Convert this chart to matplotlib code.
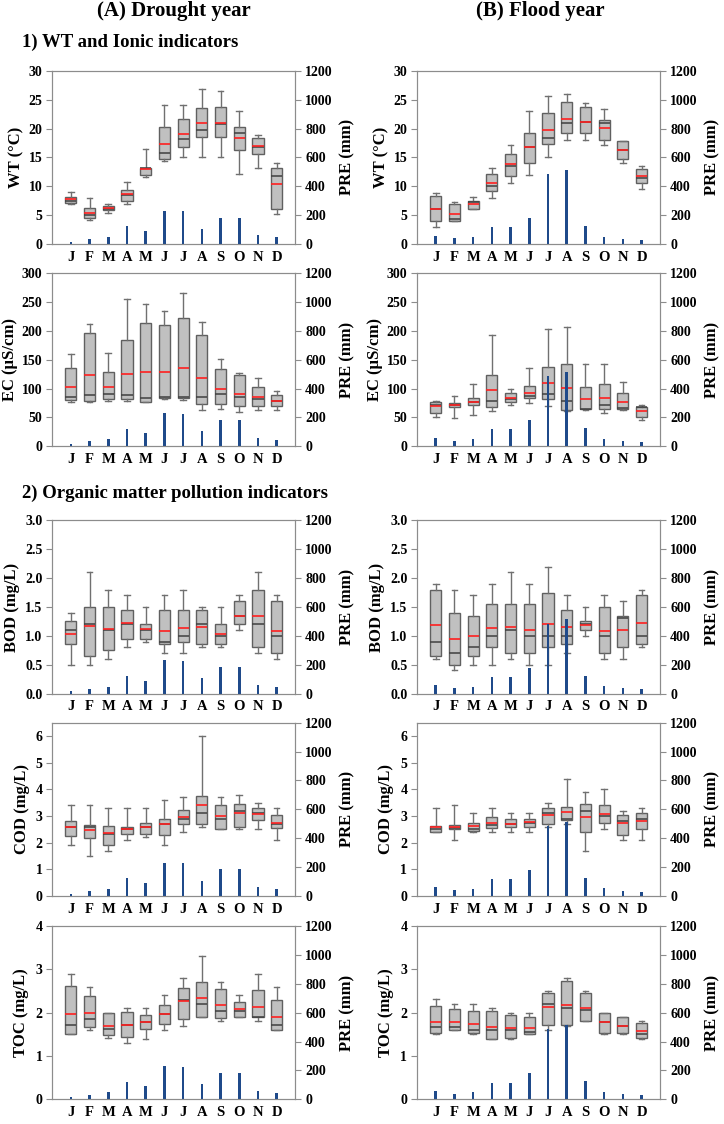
import matplotlib.pyplot as plt
import numpy as np

plt.rcParams['font.family'] = 'Liberation Serif'
plt.rcParams['font.weight'] = 'bold'
plt.rcParams['axes.labelweight'] = 'bold'

months = ['J', 'F', 'M', 'A', 'M', 'J', 'J', 'A', 'S', 'O', 'N', 'D']

# monthly precipitation (mm)
pre_drought = [15, 33, 48, 122, 90, 230, 225, 105, 183, 183, 60, 45]
pre_flood = [58, 39, 47, 116, 116, 180, 485, 515, 124, 51, 36, 29]

# each month: (whisker low, Q1, median, Q3, whisker high, mean)
wt_drought = [(6.9, 7.1, 7.5, 8.2, 9.0, 7.7), (4.1, 4.5, 5.0, 6.2, 8.0, 5.4),
              (5.3, 5.8, 6.1, 6.6, 7.0, 6.2), (7.0, 7.5, 8.4, 9.3, 10.8, 8.7),
              (11.6, 12.0, 13.1, 13.2, 16.4, 13.0), (14.3, 14.7, 15.7, 20.2, 24.1, 17.4),
              (15.1, 16.8, 18.2, 21.7, 24.1, 19.0), (15.1, 18.6, 19.8, 23.6, 26.8, 20.9),
              (15.1, 18.5, 20.8, 23.8, 26.5, 20.9), (12.1, 16.3, 19.2, 20.3, 23.1, 18.3),
              (13.1, 15.6, 16.8, 18.3, 18.8, 17.0), (5.1, 6.1, 11.7, 13.1, 14.1, 10.3)]
wt_flood = [(3.0, 4.0, 6.0, 8.3, 8.8, 6.0), (4.0, 4.0, 4.3, 6.9, 7.2, 5.1),
            (6.0, 6.0, 7.2, 7.4, 8.2, 6.9), (7.9, 9.2, 10.0, 12.1, 13.1, 10.5),
            (10.6, 11.8, 13.5, 15.6, 17.1, 13.8), (11.9, 14.1, 16.8, 19.2, 23.1, 16.8),
            (15.0, 17.3, 18.3, 22.7, 25.7, 19.7), (18.0, 19.2, 20.9, 24.6, 26.0, 21.6),
            (18.0, 19.2, 21.2, 23.7, 24.4, 21.2), (17.1, 18.0, 20.9, 21.5, 23.3, 20.1),
            (14.1, 14.7, 16.2, 17.8, 17.8, 16.3), (9.5, 10.6, 11.5, 12.9, 13.5, 11.7)]

ec_drought = [(76, 80, 86, 136, 160, 103), (77, 79, 89, 196, 211, 123),
              (79, 81, 90, 129, 161, 103), (78, 81, 89, 184, 256, 125),
              (76, 77, 84, 214, 247, 129), (81, 83, 86, 210, 235, 129),
              (80, 83, 85, 222, 266, 135), (63, 74, 85, 192, 216, 118),
              (65, 74, 90, 134, 151, 100), (59, 69, 86, 124, 127, 91),
              (63, 69, 82, 102, 118, 86), (63, 69, 79, 88, 96, 79)]
ec_flood = [(50, 58, 71, 76, 79, 70), (49, 68, 71, 75, 87, 72),
            (54, 71, 76, 83, 108, 76), (61, 68, 78, 124, 193, 97),
            (71, 76, 81, 93, 100, 84), (75, 83, 87, 105, 135, 93),
            (69, 81, 91, 138, 203, 110), (61, 63, 78, 142, 206, 101),
            (63, 64, 65, 103, 143, 82), (57, 64, 71, 107, 142, 84),
            (63, 64, 67, 93, 112, 77), (45, 51, 68, 68, 71, 61)]

bod_drought = [(0.5, 0.85, 1.1, 1.25, 1.4, 1.03), (0.5, 0.65, 1.2, 1.5, 2.1, 1.17),
               (0.6, 0.75, 1.1, 1.5, 1.8, 1.12), (0.8, 0.95, 1.2, 1.45, 1.7, 1.22),
               (0.9, 0.95, 1.1, 1.2, 1.5, 1.11), (0.7, 0.85, 0.9, 1.45, 1.7, 1.08),
               (0.7, 0.9, 1.0, 1.45, 1.8, 1.14), (0.8, 0.85, 1.2, 1.45, 1.5, 1.16),
               (0.8, 0.85, 1.0, 1.2, 1.5, 1.04), (1.1, 1.2, 1.35, 1.6, 1.7, 1.34),
               (0.7, 0.8, 1.2, 1.8, 2.1, 1.34), (0.6, 0.7, 1.0, 1.6, 1.7, 1.09)]
bod_flood = [(0.6, 0.65, 0.9, 1.8, 1.9, 1.19), (0.4, 0.5, 0.7, 1.4, 1.8, 0.95),
             (0.5, 0.65, 0.8, 1.35, 1.7, 0.99), (0.5, 0.8, 1.0, 1.55, 1.9, 1.13),
             (0.6, 0.7, 1.1, 1.55, 2.1, 1.16), (0.5, 0.7, 1.0, 1.55, 1.9, 1.1),
             (0.5, 0.8, 1.0, 1.75, 2.2, 1.21), (0.7, 0.85, 1.0, 1.45, 1.7, 1.15),
             (1.0, 1.1, 1.2, 1.25, 1.5, 1.19), (0.6, 0.7, 1.0, 1.5, 1.7, 1.08),
             (0.6, 0.8, 1.3, 1.35, 1.6, 1.1), (0.8, 0.85, 1.0, 1.7, 1.8, 1.22)]

cod_drought = [(1.9, 2.24, 2.6, 2.81, 3.4, 2.59), (1.5, 2.19, 2.6, 2.65, 3.4, 2.46),
               (1.68, 1.89, 2.31, 2.64, 3.29, 2.35), (2.09, 2.31, 2.5, 2.6, 3.3, 2.51),
               (2.2, 2.34, 2.6, 2.75, 3.3, 2.6), (1.9, 2.3, 2.7, 2.89, 3.61, 2.7),
               (2.4, 2.7, 2.87, 3.21, 3.7, 2.95), (2.6, 2.68, 3.1, 3.75, 6.0, 3.41),
               (2.5, 2.5, 2.9, 3.4, 3.7, 2.98), (2.5, 2.6, 3.2, 3.45, 3.8, 3.1),
               (2.5, 2.85, 3.1, 3.3, 3.5, 3.06), (2.1, 2.54, 2.7, 3.04, 3.3, 2.75)]
cod_flood = [(2.4, 2.41, 2.5, 2.62, 3.3, 2.6), (2.1, 2.5, 2.55, 2.65, 3.4, 2.6),
             (2.4, 2.43, 2.5, 2.75, 3.1, 2.62), (2.4, 2.55, 2.65, 2.95, 3.3, 2.75),
             (2.4, 2.6, 2.7, 2.9, 3.1, 2.7), (2.4, 2.6, 2.75, 2.9, 3.1, 2.78),
             (2.6, 2.7, 3.1, 3.28, 3.5, 3.02), (2.7, 2.85, 2.9, 3.35, 4.4, 3.15),
             (1.7, 2.4, 3.2, 3.45, 3.9, 2.95), (2.5, 2.75, 3.0, 3.4, 4.0, 3.08),
             (2.1, 2.3, 2.8, 3.05, 3.2, 2.72), (2.1, 2.5, 2.9, 3.1, 3.3, 2.82)]

toc_drought = [(1.5, 1.5, 1.71, 2.61, 2.9, 1.96), (1.6, 1.68, 1.86, 2.38, 2.6, 1.99),
               (1.41, 1.48, 1.62, 2.0, 2.0, 1.69), (1.3, 1.45, 1.72, 2.02, 2.1, 1.72),
               (1.4, 1.63, 1.78, 1.95, 2.1, 1.78), (1.6, 1.75, 1.96, 2.18, 2.4, 1.96),
               (1.7, 1.86, 2.3, 2.58, 2.8, 2.27), (1.9, 1.9, 2.2, 2.7, 3.3, 2.34),
               (1.8, 1.88, 2.05, 2.55, 2.7, 2.17), (1.9, 1.91, 2.05, 2.25, 2.4, 2.09),
               (1.8, 1.89, 1.91, 2.53, 2.9, 2.13), (1.6, 1.61, 1.71, 2.3, 2.6, 1.91)]
toc_flood = [(1.5, 1.52, 1.67, 2.16, 2.31, 1.78), (1.6, 1.6, 1.67, 2.08, 2.2, 1.78),
             (1.5, 1.52, 1.59, 2.05, 2.2, 1.74), (1.4, 1.4, 1.61, 2.03, 2.1, 1.68),
             (1.4, 1.42, 1.61, 1.94, 2.0, 1.65), (1.5, 1.5, 1.55, 1.91, 2.0, 1.65),
             (1.6, 1.72, 2.2, 2.45, 2.5, 2.14), (1.7, 1.71, 2.1, 2.74, 2.8, 2.18),
             (1.8, 1.8, 2.06, 2.45, 2.5, 2.11), (1.5, 1.52, 1.79, 2.0, 2.0, 1.79),
             (1.5, 1.52, 1.7, 1.9, 1.9, 1.7), (1.4, 1.41, 1.51, 1.76, 1.8, 1.57)]

panels = [
    ('WT (°C)', wt_drought, wt_flood, 30, np.arange(0, 31, 5), '{:.0f}'),
    ('EC (µS/cm)', ec_drought, ec_flood, 300, np.arange(0, 301, 50), '{:.0f}'),
    ('BOD (mg/L)', bod_drought, bod_flood, 3.0, np.arange(0, 3.01, 0.5), '{:.1f}'),
    ('COD (mg/L)', cod_drought, cod_flood, 6.5, np.arange(0, 7, 1), '{:.0f}'),
    ('TOC (mg/L)', toc_drought, toc_flood, 4, np.arange(0, 5, 1), '{:.0f}'),
]
# left y-label offsets (axes fraction), per row
label_x = [-0.112, -0.14, -0.132, -0.093, -0.095]

fig = plt.figure(figsize=(7.24, 11.24), dpi=100)
lefts = [0.072, 0.576]
bottoms = [0.783, 0.603, 0.383, 0.203, 0.022]
w, h = 0.336, 0.154
pos = np.arange(1, 13)
spine_c = '#8c8c8c'


def draw(ax, data, pre, label, ymax, ticks, fmt, lx):
    stats = [dict(whislo=d[0], q1=d[1], med=d[2], q3=d[3], whishi=d[4], mean=d[5], fliers=[])
             for d in data]
    ax.bxp(stats, positions=pos, widths=0.6, patch_artist=True, showmeans=True,
           meanline=True, showfliers=False,
           boxprops=dict(facecolor='#c0c0c0', edgecolor='#606060', linewidth=1),
           medianprops=dict(color='#404040', linewidth=1.1),
           meanprops=dict(color='#ff2020', linestyle='-', linewidth=1.2),
           whiskerprops=dict(color='#707070', linewidth=1),
           capprops=dict(color='#707070', linewidth=1))
    ax.set_xlim(0, 13)
    ax.set_ylim(0, ymax)
    ax.set_yticks(ticks)
    ax.set_yticklabels([fmt.format(t) for t in ticks])
    ax.set_xticks(pos)
    ax.set_xticklabels(months)
    ax.set_ylabel(label, fontsize=12)
    ax.yaxis.set_label_coords(lx, 0.5)
    ax.tick_params(axis='x', length=0, labelsize=10.5, pad=5)
    ax.tick_params(axis='y', length=4, color=spine_c, labelsize=10, pad=3)

    ax2 = ax.twinx()
    ax2.bar(pos, pre, width=0.14, color='#1f4a8a')
    ax2.set_ylim(0, 1200)
    ax2.set_yticks(np.arange(0, 1201, 200))
    ax2.set_ylabel('PRE (mm)', fontsize=12)
    ax2.yaxis.set_label_coords(1.18, 0.5)
    ax2.tick_params(axis='y', length=4, color=spine_c, labelsize=10, pad=3)
    for a in (ax, ax2):
        for s in a.spines.values():
            s.set_color(spine_c)


for r, (label, dd, df, ymax, ticks, fmt) in enumerate(panels):
    for c, (data, pre) in enumerate([(dd, pre_drought), (df, pre_flood)]):
        ax = fig.add_axes([lefts[c], bottoms[r], w, h])
        draw(ax, data, pre, label, ymax, ticks, fmt, label_x[r])

fig.text(0.240, 0.9905, '(A) Drought year', fontsize=15, ha='center', va='center')
fig.text(0.746, 0.9905, '(B) Flood year', fontsize=15, ha='center', va='center')
fig.text(0.031, 0.962, '1) WT and Ionic indicators', fontsize=13.5, ha='left', va='center')
fig.text(0.030, 0.5614, '2) Organic matter pollution indicators', fontsize=13.5, ha='left', va='center')

fig.savefig('out.png', dpi=100)
